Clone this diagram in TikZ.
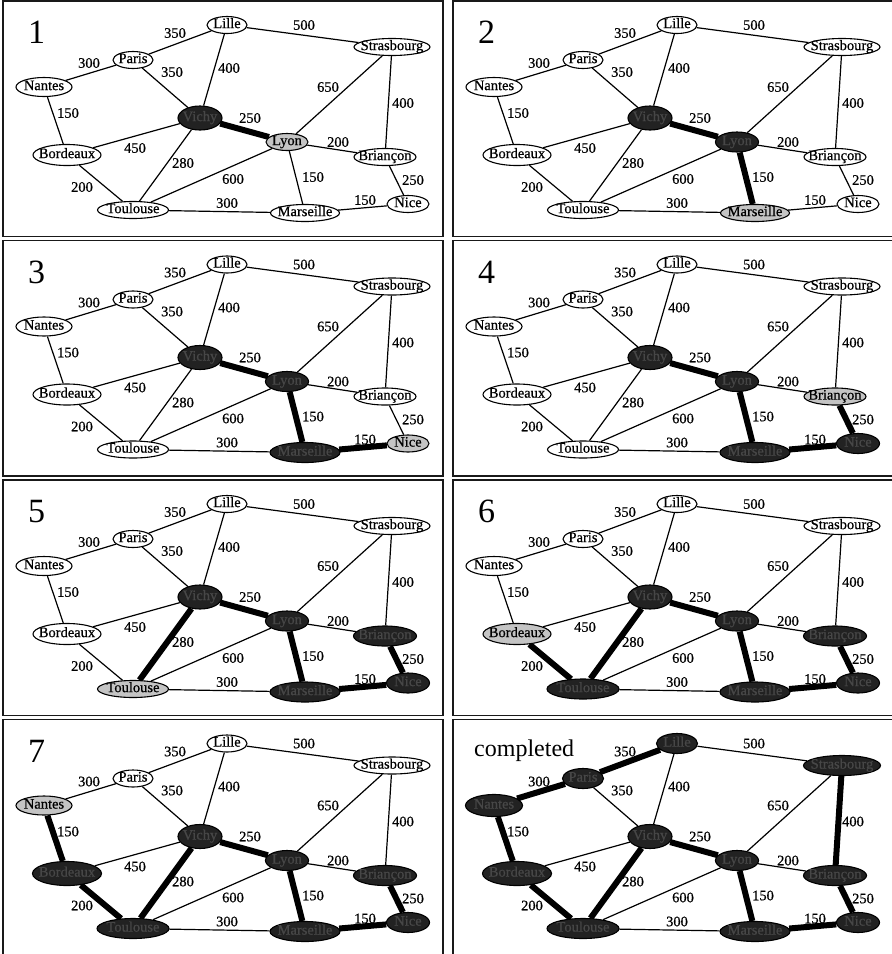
\documentclass[tikz,border=0pt]{standalone}
\usepackage{fontspec}
\setmainfont{Liberation Serif}
\newfontfamily\labelfont{Liberation Serif}[FakeBold=0.6]
\usetikzlibrary{shapes.geometric}
\pgfdeclarelayer{edges}
\pgfsetlayers{edges,main}

\definecolor{nodedark}{HTML}{222222}
\definecolor{inkdark}{HTML}{474747}
\definecolor{nodegray}{HTML}{C4C4C4}

\tikzset{
  x=1pt, y=-1pt,
  panel/.style={draw=black!90, line width=1.2pt},
  steptitle/.style={font=\fontsize{34}{34}\selectfont, inner sep=0pt, anchor=base},
  donetitle/.style={font=\fontsize{24}{24}\selectfont, inner sep=0pt, anchor=base west},
  city/.style={ellipse, draw=black, line width=1.1pt, inner sep=0pt, fill=white,
    font=\labelfont\fontsize{14.5}{14.5}\selectfont, text height=0.62em, text depth=0pt,
    minimum width=\cityw pt, minimum height=\cityh pt},
  frontier/.style={fill=nodegray},
  intree/.style={fill=nodedark, text=inkdark,
    minimum width=\cityw pt+1pt, minimum height=\cityh pt+3pt},
  road/.style={line width=1.2pt, draw=black},
  treeroad/.style={line width=6pt},
  weight/.style={font=\labelfont\fontsize{14.5}{14.5}\selectfont, inner sep=0pt},
  % state of each city (white by default)
  Lille state/.style={}, Strasbourg state/.style={}, Paris state/.style={},
  Nantes state/.style={}, Vichy state/.style={}, Lyon state/.style={},
  Briancon state/.style={}, Bordeaux state/.style={}, Toulouse state/.style={},
  Marseille state/.style={}, Nice state/.style={},
  % state of each road (thin by default)
  PaLi road/.style={}, LiSt road/.style={}, NaPa road/.style={}, PaVi road/.style={},
  LiVi road/.style={}, LySt road/.style={}, StBr road/.style={}, NaBo road/.style={},
  ViLy road/.style={}, LyBr road/.style={}, BoVi road/.style={}, ViTo road/.style={},
  LyTo road/.style={}, LyMa road/.style={}, BrNi road/.style={}, BoTo road/.style={},
  ToMa road/.style={}, MaNi road/.style={},
}

% #1 prefix, #2 key, #3 position, #4 width, #5 height, #6 text
\newcommand\placecity[6]{%
  \def\cityw{#4}\def\cityh{#5}%
  \node[city, #2 state] (#1#2) at #3 {\makebox[0pt]{#6}};}

% #1 prefix, #2 shift, #3 title node, #4 states, #5 frame height
\newcommand\graphpanel[5]{%
\begin{scope}[shift={#2},#4]
  \draw[panel] (0,0) rectangle (440,#5);
  \node (#1title) #3;
  \placecity{#1}{Lille}{(224,24)}{40}{17}{Lille}
  \placecity{#1}{Strasbourg}{(389,46)}{76}{17}{Strasbourg}
  \placecity{#1}{Paris}{(130,59)}{40}{17}{Paris}
  \placecity{#1}{Nantes}{(41,86)}{56}{19}{Nantes}
  \placecity{#1}{Vichy}{(197,117)}{43}{21}{Vichy}
  \placecity{#1}{Lyon}{(284,141)}{42}{17}{Lyon}
  \placecity{#1}{Briancon}{(382,156)}{62}{17}{Briançon}
  \placecity{#1}{Bordeaux}{(64,154)}{68}{21}{Bordeaux}
  \placecity{#1}{Toulouse}{(130,209)}{71}{17}{Toulouse}
  \placecity{#1}{Marseille}{(302,212)}{69}{17}{Marseille}
  \placecity{#1}{Nice}{(405,203)}{42}{17}{Nice}
  \begin{pgfonlayer}{edges}
    \draw[road, PaLi road] (#1Paris) -- (#1Lille);
    \draw[road, LiSt road] (#1Lille) -- (#1Strasbourg);
    \draw[road, NaPa road] (#1Nantes) -- (#1Paris);
    \draw[road, PaVi road] (#1Paris) -- (#1Vichy);
    \draw[road, LiVi road] (#1Lille) -- (#1Vichy);
    \draw[road, LySt road] (#1Lyon) -- (#1Strasbourg);
    \draw[road, StBr road] (#1Strasbourg) -- (#1Briancon);
    \draw[road, NaBo road] (#1Nantes) -- (#1Bordeaux);
    \draw[road, ViLy road] (#1Vichy) -- (#1Lyon);
    \draw[road, LyBr road] (#1Lyon) -- (#1Briancon);
    \draw[road, BoVi road] (#1Bordeaux) -- (#1Vichy);
    \draw[road, ViTo road] (#1Vichy) -- (#1Toulouse);
    \draw[road, LyTo road] (#1Lyon) -- (#1Toulouse);
    \draw[road, LyMa road] (#1Lyon) -- (#1Marseille);
    \draw[road, BrNi road] (#1Briancon) -- (#1Nice);
    \draw[road, BoTo road] (#1Bordeaux) -- (#1Toulouse);
    \draw[road, ToMa road] (#1Toulouse) -- (#1Marseille);
    \draw[road, MaNi road] (#1Marseille) -- (#1Nice);
  \end{pgfonlayer}
  \node[weight] (#1wPaLi) at (172,32) {350};
  \node[weight] (#1wLiSt) at (301,24) {500};
  \node[weight] (#1wNaPa) at (86,62) {300};
  \node[weight] (#1wPaVi) at (169,71) {350};
  \node[weight] (#1wLiVi) at (226,67) {400};
  \node[weight] (#1wLySt) at (325,86) {650};
  \node[weight] (#1wStBr) at (400,102) {400};
  \node[weight] (#1wNaBo) at (65,112) {150};
  \node[weight] (#1wViLy) at (247,117) {250};
  \node[weight] (#1wLyBr) at (335,141) {200};
  \node[weight] (#1wBoVi) at (132,147) {450};
  \node[weight] (#1wViTo) at (180,162) {280};
  \node[weight] (#1wLyTo) at (230,178) {600};
  \node[weight] (#1wLyMa) at (310,176) {150};
  \node[weight] (#1wBrNi) at (410,179) {250};
  \node[weight] (#1wBoTo) at (79,186) {200};
  \node[weight] (#1wToMa) at (224,202) {300};
  \node[weight] (#1wMaNi) at (362,199) {150};
\end{scope}}

\begin{document}
\begin{tikzpicture}
\useasboundingbox (0,0) rectangle (892,954);
\clip (0,0) rectangle (892,954);

\graphpanel{a}{(3,1)}{[steptitle] at (33.5,42.5) {1}}{%
  Vichy state/.style=intree, Lyon state/.style=frontier,
  ViLy road/.style=treeroad}{235.5}

\graphpanel{b}{(453,1)}{[steptitle] at (33.5,42.5) {2}}{%
  Vichy state/.style=intree, Lyon state/.style=intree,
  Marseille state/.style=frontier,
  ViLy road/.style=treeroad, LyMa road/.style=treeroad}{235.5}

\graphpanel{c}{(3,240.5)}{[steptitle] at (33.5,42.5) {3}}{%
  Vichy state/.style=intree, Lyon state/.style=intree,
  Marseille state/.style=intree, Nice state/.style=frontier,
  ViLy road/.style=treeroad, LyMa road/.style=treeroad,
  MaNi road/.style=treeroad}{235.5}

\graphpanel{d}{(453,240.5)}{[steptitle] at (33.5,42.5) {4}}{%
  Vichy state/.style=intree, Lyon state/.style=intree,
  Marseille state/.style=intree, Nice state/.style=intree,
  Briancon state/.style=frontier,
  ViLy road/.style=treeroad, LyMa road/.style=treeroad,
  MaNi road/.style=treeroad, BrNi road/.style=treeroad}{235.5}

\graphpanel{e}{(3,480)}{[steptitle] at (33.5,42.5) {5}}{%
  Vichy state/.style=intree, Lyon state/.style=intree,
  Marseille state/.style=intree, Nice state/.style=intree,
  Briancon state/.style=intree, Toulouse state/.style=frontier,
  ViLy road/.style=treeroad, LyMa road/.style=treeroad,
  MaNi road/.style=treeroad, BrNi road/.style=treeroad,
  ViTo road/.style=treeroad}{235.5}

\graphpanel{f}{(453,480)}{[steptitle] at (33.5,42.5) {6}}{%
  Vichy state/.style=intree, Lyon state/.style=intree,
  Marseille state/.style=intree, Nice state/.style=intree,
  Briancon state/.style=intree, Toulouse state/.style=intree,
  Bordeaux state/.style=frontier,
  ViLy road/.style=treeroad, LyMa road/.style=treeroad,
  MaNi road/.style=treeroad, BrNi road/.style=treeroad,
  ViTo road/.style=treeroad, BoTo road/.style=treeroad}{235.5}

\graphpanel{g}{(3,719.5)}{[steptitle] at (33.5,42.5) {7}}{%
  Vichy state/.style=intree, Lyon state/.style=intree,
  Marseille state/.style=intree, Nice state/.style=intree,
  Briancon state/.style=intree, Toulouse state/.style=intree,
  Bordeaux state/.style=intree, Nantes state/.style=frontier,
  ViLy road/.style=treeroad, LyMa road/.style=treeroad,
  MaNi road/.style=treeroad, BrNi road/.style=treeroad,
  ViTo road/.style=treeroad, BoTo road/.style=treeroad,
  NaBo road/.style=treeroad}{260}

\graphpanel{h}{(453,719.5)}{[donetitle] at (21,37) {completed}}{%
  Vichy state/.style=intree, Lyon state/.style=intree,
  Marseille state/.style=intree, Nice state/.style=intree,
  Briancon state/.style=intree, Toulouse state/.style=intree,
  Bordeaux state/.style=intree, Nantes state/.style=intree,
  Paris state/.style=intree, Lille state/.style=intree,
  Strasbourg state/.style=intree,
  ViLy road/.style=treeroad, LyMa road/.style=treeroad,
  MaNi road/.style=treeroad, BrNi road/.style=treeroad,
  ViTo road/.style=treeroad, BoTo road/.style=treeroad,
  NaBo road/.style=treeroad, NaPa road/.style=treeroad,
  PaLi road/.style=treeroad, StBr road/.style=treeroad}{260}
\end{tikzpicture}
\end{document}
